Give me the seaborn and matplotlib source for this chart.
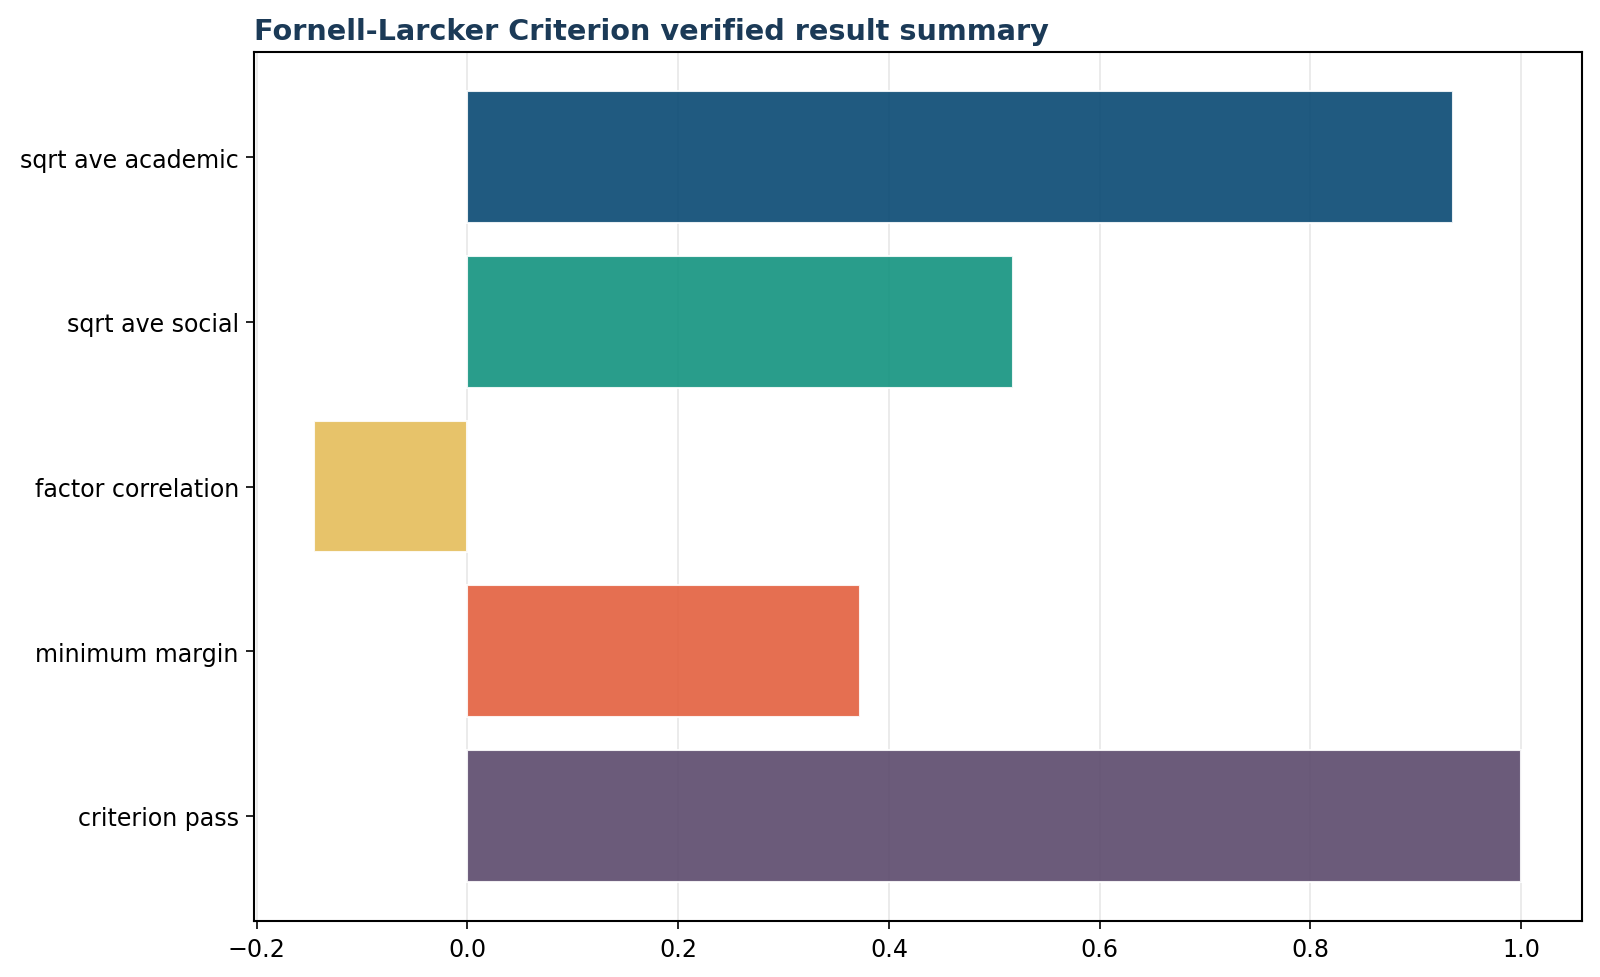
import pandas as pd
import seaborn as sns
import matplotlib.pyplot as plt

# values
metrics = ["sqrt ave academic", "sqrt ave social", "factor correlation", "minimum margin", "criterion pass"]
values = [0.935, 0.518, -0.145, 0.373, 1.0]
bar_colors = ["#084872", "#12927f", "#e5bd5a", "#e35f3e", "#5b496c"]

df = pd.DataFrame({"metric": metrics, "value": values})

sns.set_style("white")
plt.rcParams["font.family"] = ["DejaVu Sans"]

fig = plt.figure(figsize=(16 / 1.5, 9.78 / 1.5), dpi=150)
ax = fig.add_axes([0.159, 0.057, 0.83, 0.889])

sns.barplot(data=df, x="value", y="metric", hue="metric", palette=bar_colors,
            legend=False, orient="h", width=0.8, alpha=0.9, saturation=1, ax=ax)

ax.set_axisbelow(True)
ax.grid(axis="x", color="#d8d8d8", linewidth=0.8, alpha=0.6)
ax.grid(axis="y", visible=False)
ax.set_xlim(-0.202, 1.058)
ax.set_ylim(4.64, -0.64)

for s in ax.spines.values():
    s.set_visible(True)
    s.set_color("black")
    s.set_linewidth(1.0)

ax.tick_params(axis="both", which="both", length=4, width=0.8, color="black",
               labelcolor="black", labelsize=11.4, left=True, bottom=True)
ax.set_xlabel("")
ax.set_ylabel("")
ax.set_title("Fornell-Larcker Criterion verified result summary", loc="left",
             fontsize=13.8, fontweight="bold", color="#1b3a57")

fig.savefig("out.png", dpi=150)
